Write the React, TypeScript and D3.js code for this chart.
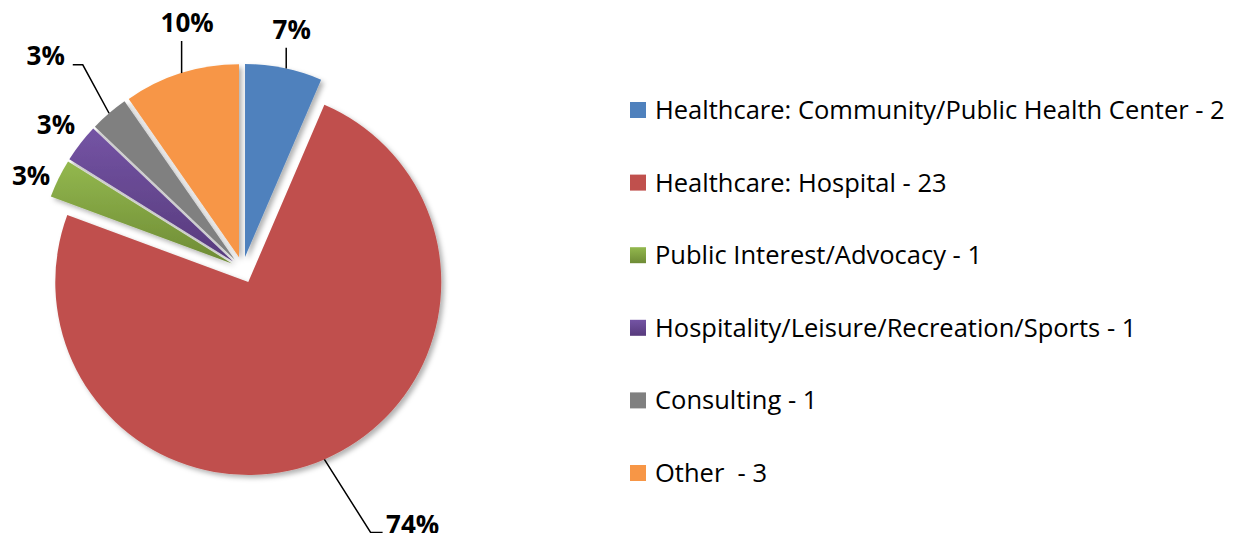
import React from "react";
import * as d3 from "d3";

const categories = [
  "Healthcare: Community/Public Health Center",
  "Healthcare: Hospital",
  "Public Interest/Advocacy",
  "Hospitality/Leisure/Recreation/Sports",
  "Consulting",
  "Other ",
];
const counts = [2, 23, 1, 1, 1, 3];
const pctLabels = ["7%", "74%", "3%", "3%", "3%", "10%"];
const colorsTop = ["#4F81BD", "#C0504D", "#93B84E", "#7454A4", "#808080", "#F79646"];
const colorsBottom = ["#4F81BD", "#C0504D", "#6E8B35", "#573A7C", "#808080", "#F79646"];

const W = 1244;
const H = 533;
const CX = 242.6;
const CY = 268.8;
const R = 193;
const explode = [12, 14.4, 12, 12, 12, 12];
// label placement (angle delta in degrees from slice mid-angle, distance from pie centre)
const labelDelta = [0, -10.4, -2.4, 0, -2.1, 4.7];
const labelDist = [244, 307, 231, 236, 290, 252];

export default function App() {
  const pie = d3.pie<number>().sort(null).value((d) => d).startAngle(0).endAngle(2 * Math.PI);
  const arcs = pie(counts);
  const arcGen = d3.arc<d3.PieArcDatum<number>>().innerRadius(0).outerRadius(R);

  const dir = (a: number) => [Math.sin(a), -Math.cos(a)];

  const legendY = d3.scaleLinear().domain([0, categories.length - 1]).range([110, 473]);

  const slices = arcs.map((a, i) => {
    const mid = (a.startAngle + a.endAngle) / 2;
    const [dx, dy] = dir(mid);
    const ox = CX + dx * explode[i];
    const oy = CY + dy * explode[i];
    const la = mid + (labelDelta[i] * Math.PI) / 180;
    const [lx0, ly0] = dir(la);
    const lx = CX + lx0 * labelDist[i];
    const ly = CY + ly0 * labelDist[i];
    return { a, i, mid, ox, oy, lx, ly };
  });

  const leaders: string[] = [];
  const circY = (s: any, x: number) => s.oy - Math.sqrt(Math.max(0, R * R - (x - s.ox) * (x - s.ox)));
  [0, 5].forEach((i) => {
    const s = slices[i];
    const x = s.lx - 5.5;
    leaders.push(d3.line()([[x, s.ly + 18], [x, circY(s, x)]]) as string);
  });
  {
    const s = slices[4];
    const [dx, dy] = dir(s.mid);
    const px = s.ox + dx * R;
    const py = s.oy + dy * R;
    leaders.push(
      d3.line()([[s.lx + 27, s.ly + 9], [s.lx + 37, s.ly + 9], [px, py]]) as string
    );
  }
  {
    const s = slices[1];
    const [dx, dy] = dir(s.mid);
    const px = s.ox + dx * R;
    const py = s.oy + dy * R;
    leaders.push(
      d3.line()([[px, py], [s.lx - 42, s.ly + 8], [s.lx - 30, s.ly + 8]]) as string
    );
  }

  return (
    <svg
      width={W}
      height={H}
      style={{ position: "absolute", left: 0, top: 0, background: "#fff" }}
    >
      <defs>
        <filter id="shadow" x="-20%" y="-20%" width="140%" height="140%">
          <feDropShadow dx="3" dy="3" stdDeviation="2.5" floodColor="#000" floodOpacity="0.3" />
        </filter>
        {categories.map((_, i) => (
          <linearGradient key={i} id={`g${i}`} x1="0" y1="0" x2="0" y2="1">
            <stop offset="0%" stopColor={colorsTop[i]} />
            <stop offset="100%" stopColor={colorsBottom[i]} />
          </linearGradient>
        ))}
      </defs>
      <g filter="url(#shadow)">
        {slices.map((s) => (
          <path
            key={s.i}
            d={arcGen(s.a) as string}
            transform={`translate(${s.ox},${s.oy})`}
            fill={`url(#g${s.i})`}
          />
        ))}
      </g>
      {leaders.map((d, i) => (
        <path key={i} d={d} fill="none" stroke="#000" strokeWidth={1.5} />
      ))}
      {slices.map((s) => (
        <text
          key={s.i}
          x={s.lx}
          y={s.ly + 9.5}
          textAnchor="middle"
          fontFamily="'Open Sans', sans-serif"
          fontWeight="bold"
          fontSize={26}
          fill="#000"
        >
          {pctLabels[s.i]}
        </text>
      ))}
      {categories.map((c, i) => (
        <g key={i} transform={`translate(630,${legendY(i)})`}>
          <rect x={0} y={-8} width={16} height={16} fill={`url(#g${i})`} />
          <text
            x={25}
            y={9}
            fontFamily="'Open Sans', sans-serif"
            fontSize={25.5}
            fill="#000"
            style={{ whiteSpace: "pre" }}
          >
            {`${c} - ${counts[i]}`}
          </text>
        </g>
      ))}
    </svg>
  );
}
